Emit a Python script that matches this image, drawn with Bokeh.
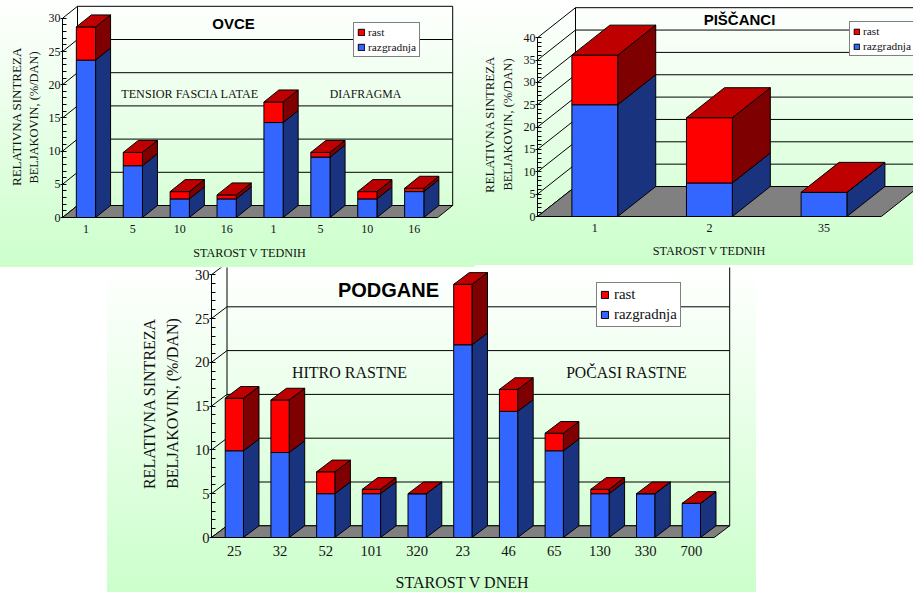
from math import pi

from bokeh.embed import file_html
from bokeh.layouts import column, row
from bokeh.models import FixedTicker, Label, Legend, LegendItem
from bokeh.plotting import figure
from bokeh.resources import INLINE

# Relative protein synthesis rate, split into growth and degradation
ovce_starost = ["1", "5", "10", "16", "1", "5", "10", "16"]
ovce_razgradnja = [23.7, 7.8, 2.8, 2.8, 14.3, 9.1, 2.8, 3.9]
ovce_rast = [5.0, 2.0, 1.1, 0.6, 3.1, 0.7, 1.1, 0.5]

piscanci_starost = ["1", "2", "35"]
piscanci_razgradnja = [25.0, 7.5, 5.4]
piscanci_rast = [11.1, 14.6, 0.0]

podgane_starost = ["25", "32", "52", "101", "320", "23", "46", "65", "130", "330", "700"]
podgane_razgradnja = [9.9, 9.7, 5.0, 5.0, 5.0, 22.0, 14.4, 9.9, 5.0, 5.0, 3.9]
podgane_rast = [6.0, 6.0, 2.5, 0.5, 0.0, 6.9, 2.5, 2.0, 0.5, 0.0, 0.0]

BLUE, BLUE_SIDE = "#3366FF", "#19337F"
RED, RED_SIDE, RED_TOP = "#FF0000", "#7F0000", "#BF0000"
FLOOR = "#808080"
SERIF = "Liberation Serif"
SANS = "Liberation Sans"


def bar_chart(categories, lower, upper, y_max, panel, plot, legend_box, legend_style):
    """Stacked pseudo-3D column chart; panel and plot hold pixel layout values.

    The frame fills the whole panel and both axes sit at fixed data positions,
    so captions can go anywhere in the panel.
    """
    px, py, pw, ph = panel
    left, base, cat_px, unit_px, depth_x, depth_y, bar_w, tick_font, x_standoff = plot
    frame_left = left - px
    frame_bottom = base - py

    n = len(categories)
    ddx = depth_x / cat_px
    ddy = depth_y / unit_px

    p = figure(
        width=pw,
        height=ph,
        output_backend="svg",
        toolbar_location=None,
        x_range=(-frame_left / cat_px, (pw - frame_left) / cat_px),
        y_range=((frame_bottom - ph) / unit_px, frame_bottom / unit_px),
        min_border=0,
        border_fill_color=None,
        background_fill_color=None,
        outline_line_color=None,
        styles={"background": "linear-gradient(#FFFFFF, #CCFFCC)"},
    )
    p.grid.visible = False

    # Value axis: major marks continue as wall diagonals, minor ones point inward
    ya = p.yaxis[0]
    ya.fixed_location = 0
    ya.ticker = FixedTicker(
        ticks=list(range(0, y_max + 1, 5)),
        minor_ticks=list(range(0, y_max + 1)),
    )
    ya.bounds = (0, y_max)
    ya.axis_line_color = "black"
    ya.major_tick_line_color = "black"
    ya.minor_tick_line_color = "black"
    ya.major_tick_in = 0
    ya.major_tick_out = 2
    ya.minor_tick_in = 4
    ya.minor_tick_out = 0
    ya.major_label_standoff = 0
    ya.major_label_text_font = SERIF
    ya.major_label_text_font_size = tick_font
    ya.major_label_text_color = "#111111"

    # Category axis shows only its labels; duplicate names are allowed by position
    xa = p.xaxis[0]
    xa.fixed_location = 0
    centers = [i + 0.5 for i in range(n)]
    xa.ticker = FixedTicker(ticks=centers)
    xa.major_label_overrides = dict(zip(centers, categories))
    xa.axis_line_color = None
    xa.major_tick_line_color = None
    xa.minor_tick_line_color = None
    xa.major_label_standoff = x_standoff
    xa.major_label_text_font = SERIF
    xa.major_label_text_font_size = tick_font
    xa.major_label_text_color = "#111111"

    # Back wall grid and its diagonals towards the value axis
    ticks = list(range(0, y_max + 1, 5))
    p.segment(
        x0=[0.0] * len(ticks), y0=ticks,
        x1=[ddx] * len(ticks), y1=[t + ddy for t in ticks],
        line_color="black", line_width=1,
    )
    p.segment(
        x0=[ddx] * len(ticks), y0=[t + ddy for t in ticks],
        x1=[n + ddx] * len(ticks), y1=[t + ddy for t in ticks],
        line_color="black", line_width=1,
    )
    p.segment(
        x0=[ddx, n + ddx], y0=[ddy, ddy],
        x1=[ddx, n + ddx], y1=[y_max + ddy, y_max + ddy],
        line_color="black", line_width=1,
    )

    # Floor of the box
    p.patch(
        [0, n, n + ddx, ddx], [0, 0, ddy, ddy],
        fill_color=FLOOR, line_color="black", line_width=1,
    )

    def faces(y0s, y1s):
        fx, fy, sx, sy = [], [], [], []
        for i, (a, b) in enumerate(zip(y0s, y1s)):
            x0, x1 = i + 0.5 - bar_w / 2, i + 0.5 + bar_w / 2
            fx.append([x0, x1, x1, x0])
            fy.append([a, a, b, b])
            sx.append([x1, x1 + ddx, x1 + ddx, x1])
            sy.append([a, a + ddy, b + ddy, b])
        return fx, fy, sx, sy

    totals = [a + b for a, b in zip(lower, upper)]
    zeros = [0.0] * n
    lfx, lfy, lsx, lsy = faces(zeros, lower)
    ufx, ufy, usx, usy = faces(lower, totals)

    line = dict(line_color="black", line_width=1)
    p.patches(lsx, lsy, fill_color=BLUE_SIDE, **line)
    p.patches(usx, usy, fill_color=RED_SIDE, **line)
    blue = p.patches(lfx, lfy, fill_color=BLUE, **line)
    red = p.patches(ufx, ufy, fill_color=RED, **line)

    tx = [
        [i + 0.5 - bar_w / 2, i + 0.5 + bar_w / 2, i + 0.5 + bar_w / 2 + ddx, i + 0.5 - bar_w / 2 + ddx]
        for i in range(n)
    ]
    ty = [[t, t, t + ddy, t + ddy] for t in totals]
    p.patches(tx, ty, fill_color=RED_TOP, **line)

    # Legend box, positioned from the window pixel of its lower-left corner
    lx, ly = legend_box
    pad_l, glyph, standoff, row_h, gap, font = legend_style
    legend = Legend(
        items=[LegendItem(label="rast", renderers=[red]), LegendItem(label="razgradnja", renderers=[blue])],
        location=(lx - px, py + ph - ly),
        orientation="vertical",
        padding=pad_l,
        margin=0,
        spacing=gap,
        glyph_width=glyph,
        glyph_height=glyph,
        label_standoff=standoff,
        label_height=row_h,
        label_width=10,
        label_text_font=SERIF,
        label_text_font_size=font,
        label_text_color="#111111",
        background_fill_color="white",
        background_fill_alpha=1,
        border_line_color="black",
        border_line_width=1,
    )
    p.add_layout(legend)
    return p


def put(p, panel, text, x, y, size, font=SERIF, bold=False, vertical=False):
    """Place a caption by its centre, given in window pixels."""
    px, py, pw, ph = panel
    p.add_layout(Label(
        x=x - px, y=py + ph - y, x_units="screen", y_units="screen",
        text=text,
        text_font=font,
        text_font_size=size,
        text_font_style="bold" if bold else "normal",
        text_color="black" if bold else "#111111",
        text_align="center",
        text_baseline="middle",
        angle=pi / 2 if vertical else 0,
    ))


box = (0, 0, 475, 267)
ovce = bar_chart(
    ovce_starost, ovce_razgradnja, ovce_rast, 30, box,
    plot=(62, 217, 46.9, 6.64, 15, 12, 0.41, "12px", 1),
    legend_box=(353, 57),
    legend_style=(3, 8, 3, 12, 3, "11.4px"),
)
put(ovce, box, "OVCE", 233, 23, "15px", SANS, bold=True)
put(ovce, box, "TENSIOR FASCIA LATAE", 189.5, 93, "12.2px")
put(ovce, box, "DIAFRAGMA", 365, 93, "11.8px")
put(ovce, box, "STAROST V TEDNIH", 249.5, 252, "12.2px")
put(ovce, box, "RELATIVNA SINTREZA", 15.5, 116, "13px", vertical=True)
put(ovce, box, "BELJAKOVIN, (%/DAN)", 33, 117, "12.4px", vertical=True)

box = (475, 0, 438, 265)
piscanci = bar_chart(
    piscanci_starost, piscanci_razgradnja, piscanci_rast, 40, box,
    plot=(537, 216, 114.6, 4.47, 38, 30, 0.40, "12px", 1),
    legend_box=(849, 56),
    legend_style=(3, 7, 3, 12, 3, "11.4px"),
)
put(piscanci, box, "PIŠČANCI", 739, 19, "15px", SANS, bold=True)
put(piscanci, box, "STAROST V TEDNIH", 709, 250, "12.2px")
put(piscanci, box, "RELATIVNA SINTREZA", 489.5, 124, "12.8px", vertical=True)
put(piscanci, box, "BELJAKOVIN, (%/DAN)", 507, 124, "12.4px", vertical=True)

box = (107, 267, 649, 325)
podgane = bar_chart(
    podgane_starost, podgane_razgradnja, podgane_rast, 30, box,
    plot=(211, 537, 45.7, 8.76, 15.5, 11.7, 0.40, "14.6px", 2),
    legend_box=(596, 327),
    legend_style=(3, 9, 5, 15, 3, "14.9px"),
)
put(podgane, box, "PODGANE", 388, 289, "20px", SANS, bold=True)
put(podgane, box, "HITRO RASTNE", 349, 372, "16px")
put(podgane, box, "POČASI RASTNE", 626, 372, "15.7px")
put(podgane, box, "STAROST V DNEH", 462, 582, "16px")
put(podgane, box, "RELATIVNA SINTREZA", 149, 403, "16px", vertical=True)
put(podgane, box, "BELJAKOVIN, (%/DAN)", 172, 403, "16px", vertical=True)
podgane.margin = (0, 0, 0, 107)

page = column(row(ovce, piscanci, spacing=0), podgane, spacing=0)

open("out.html", "w").write(file_html(page, INLINE))
